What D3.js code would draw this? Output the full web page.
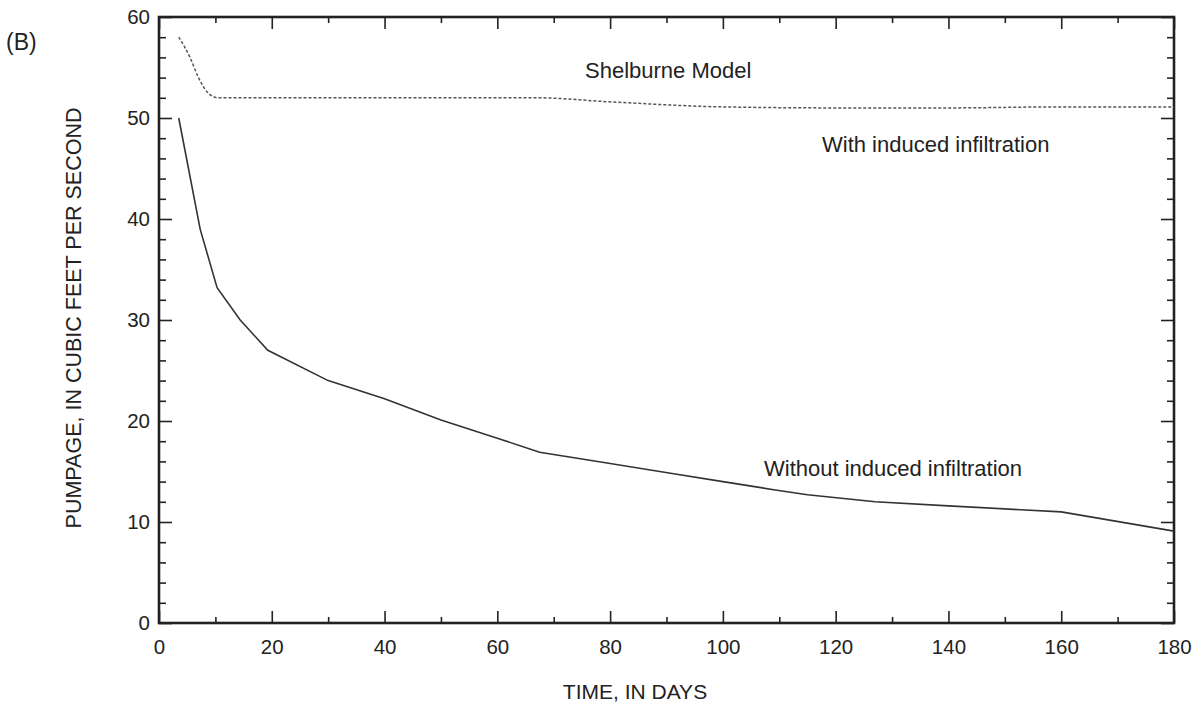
<!DOCTYPE html>
<html>
<head>
<meta charset="utf-8">
<script src="https://cdn.jsdelivr.net/npm/d3@7"></script>
<style>
  body { margin: 0; background: #fff; }
  svg { display: block; font-family: "Liberation Sans", Arial, sans-serif; }
  .tick text { font-size: 20.5px; fill: #222; }
  .tick line { stroke: #222; stroke-width: 1.6px; }
</style>
</head>
<body>
<div id="container"></div>
<script>
// data
const withDays = [3.5, 5.5, 7, 8.5, 10.5, 30, 50, 67, 80, 100, 120, 140, 160, 180];
const withValues = [58, 56, 54, 52.6, 52, 52, 52, 52, 51.6, 51.1, 51, 51, 51.1, 51.1];

const withoutDays = [3.5, 7.3, 10.3, 14.4, 19.3, 30, 40, 50, 60, 67.5, 80, 91, 100, 109, 115, 127, 140, 160, 180];
const withoutValues = [50, 39, 33.2, 30, 27, 24, 22.2, 20.1, 18.3, 16.9, 15.8, 14.8, 14, 13.2, 12.7, 12, 11.6, 11, 9.1];

const xMajor = [0, 20, 40, 60, 80, 100, 120, 140, 160, 180];
const xMinor = [10, 30, 50, 70, 90, 110, 130, 150, 170];
const yMajor = [0, 10, 20, 30, 40, 50, 60];
const yMinor = [2, 4, 6, 8, 12, 14, 16, 18, 22, 24, 26, 28, 32, 34, 36, 38, 42, 44, 46, 48, 52, 54, 56, 58];

const w = 1196;
const h = 707;
const padLeft = 159, padRight = 1174, padTop = 17, padBottom = 623;

const svg = d3.select('#container').append('svg')
    .attr('width', w)
    .attr('height', h);

const xScale = d3.scaleLinear().domain([0, 180]).range([padLeft, padRight]);
const yScale = d3.scaleLinear().domain([0, 60]).range([padBottom, padTop]);

// bottom axis with labels
svg.append('g')
    .attr('transform', `translate(0,${padBottom})`)
    .call(d3.axisBottom(xScale).tickValues(xMajor).tickSize(-12).tickPadding(16).tickFormat(d => d));
svg.append('g')
    .attr('transform', `translate(0,${padBottom})`)
    .call(d3.axisBottom(xScale).tickValues(xMinor).tickSize(-6).tickFormat(''));
// top ticks
svg.append('g')
    .attr('transform', `translate(0,${padTop})`)
    .call(d3.axisTop(xScale).tickValues(xMajor).tickSize(-12).tickFormat(''));
svg.append('g')
    .attr('transform', `translate(0,${padTop})`)
    .call(d3.axisTop(xScale).tickValues(xMinor).tickSize(-6).tickFormat(''));

// left axis with labels
svg.append('g')
    .attr('transform', `translate(${padLeft},0)`)
    .call(d3.axisLeft(yScale).tickValues(yMajor).tickSize(-13).tickPadding(9).tickFormat(d => d));
svg.append('g')
    .attr('transform', `translate(${padLeft},0)`)
    .call(d3.axisLeft(yScale).tickValues(yMinor).tickSize(-7).tickFormat(''));
// right ticks
svg.append('g')
    .attr('transform', `translate(${padRight},0)`)
    .call(d3.axisRight(yScale).tickValues(yMajor).tickSize(-13).tickFormat(''));
svg.append('g')
    .attr('transform', `translate(${padRight},0)`)
    .call(d3.axisRight(yScale).tickValues(yMinor).tickSize(-7).tickFormat(''));

svg.selectAll('.domain').remove();

// frame
svg.append('rect')
    .attr('x', padLeft)
    .attr('y', padTop)
    .attr('width', padRight - padLeft)
    .attr('height', padBottom - padTop)
    .attr('fill', 'none')
    .attr('stroke', '#222')
    .attr('stroke-width', 2.6);

const line = d3.line()
    .x(d => xScale(d[0]))
    .y(d => yScale(d[1]));

svg.append('path')
    .datum(withDays.map((d, i) => [d, withValues[i]]))
    .attr('d', line.curve(d3.curveMonotoneX))
    .attr('fill', 'none')
    .attr('stroke', '#555')
    .attr('stroke-width', 1.5)
    .attr('stroke-dasharray', '3,2');

svg.append('path')
    .datum(withoutDays.map((d, i) => [d, withoutValues[i]]))
    .attr('d', line.curve(d3.curveLinear))
    .attr('fill', 'none')
    .attr('stroke', '#333')
    .attr('stroke-width', 1.6);

const label = (x, y, txt, anchor) => svg.append('text')
    .attr('x', x)
    .attr('y', y)
    .attr('text-anchor', anchor || 'start')
    .attr('font-size', 22)
    .attr('fill', '#222')
    .text(txt);

label(585, 78, 'Shelburne Model');
label(822, 152, 'With induced infiltration');
label(764, 476, 'Without induced infiltration');
label(6, 50, '(B)').attr('font-size', 23);
label(635, 699, 'TIME, IN DAYS', 'middle').attr('font-size', 21);

svg.append('text')
    .attr('transform', 'translate(81,318) rotate(-90)')
    .attr('text-anchor', 'middle')
    .attr('font-size', 21.5)
    .attr('fill', '#222')
    .text('PUMPAGE, IN CUBIC FEET PER SECOND');
</script>
</body>
</html>
